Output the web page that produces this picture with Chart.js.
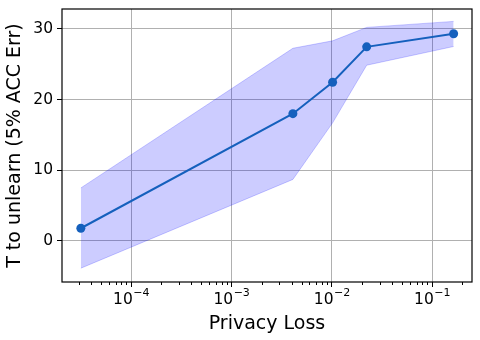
<!DOCTYPE html>
<html>
<head>
<meta charset="utf-8">
<script src="https://cdn.jsdelivr.net/npm/chart.js@4/dist/chart.umd.min.js"></script>
<style>
  html, body { margin: 0; padding: 0; background: #fff; }
  #wrap { width: 480px; height: 340px; position: relative; }
</style>
</head>
<body>
<div id="wrap"><canvas id="chart"></canvas></div>
<script>
// privacy loss (x, log scale) and T to unlearn (y)
const privacyLoss = [3.16e-5, 4.1e-3, 1.02e-2, 2.23e-2, 1.64e-1];
const tMean = [1.8, 18.0, 22.45, 27.45, 29.3];
const tUpper = [7.5, 27.25, 28.3, 30.2, 31.05];
const tLower = [-3.85, 8.7, 16.7, 24.85, 27.5];
const xTicks = [1e-4, 1e-3, 1e-2, 1e-1];
const yTicks = [0, 10, 20, 30];

function pts(ys) {
    return privacyLoss.map((x, i) => ({x: x, y: ys[i]}));
}

// frame, minor log ticks and 10^n labels
const framePlugin = {
    id: 'frame',
    afterDraw(chart) {
        let ctx = chart.ctx, a = chart.chartArea, xs = chart.scales.x;
        ctx.save();
        ctx.strokeStyle = '#000';
        ctx.lineWidth = 1;
        for (let d = -5; d <= -1; d++) {
            for (let m = 2; m <= 9; m++) {
                let v = m * Math.pow(10, d);
                if (v < xs.min || v > xs.max) continue;
                let px = Math.round(xs.getPixelForValue(v)) + 0.5;
                ctx.beginPath();
                ctx.moveTo(px, a.bottom);
                ctx.lineTo(px, a.bottom + 3);
                ctx.stroke();
            }
        }
        ctx.lineWidth = 1.2;
        ctx.strokeRect(a.left, a.top, a.right - a.left, a.bottom - a.top);

        // tick labels like 10^-4
        ctx.fillStyle = '#000';
        ctx.textBaseline = 'alphabetic';
        ctx.textAlign = 'left';
        let base = a.bottom + 21.5;
        xTicks.forEach(v => {
            let e = '\u2212' + Math.abs(Math.round(Math.log10(v)));
            ctx.font = '15.5px "DejaVu Sans"';
            let w1 = ctx.measureText('10').width;
            ctx.font = '11px "DejaVu Sans"';
            let w2 = ctx.measureText(e).width;
            let x0 = xs.getPixelForValue(v) - (w1 + w2) / 2;
            ctx.font = '15.5px "DejaVu Sans"';
            ctx.fillText('10', x0, base);
            ctx.font = '11px "DejaVu Sans"';
            ctx.fillText(e, x0 + w1 + 0.5, base - 7.5);
        });
        ctx.restore();
    }
};

const data = {
    datasets: [
        {
            label: 'upper',
            data: pts(tUpper),
            borderColor: 'rgba(0,0,255,0.2)',
            backgroundColor: 'rgba(0,0,255,0.2)',
            borderWidth: 1,
            pointRadius: 0,
            fill: '+1',
            order: 2
        },
        {
            label: 'lower',
            data: pts(tLower),
            borderColor: 'rgba(0,0,255,0.2)',
            backgroundColor: 'rgba(0,0,255,0.2)',
            borderWidth: 1,
            pointRadius: 0,
            fill: false,
            order: 2
        },
        {
            label: 'mean',
            data: pts(tMean),
            borderColor: '#1560bd',
            backgroundColor: '#1560bd',
            borderWidth: 2,
            pointRadius: 4.5,
            pointBorderWidth: 0,
            fill: false,
            order: 1
        }
    ]
};

const config = {
    type: 'line',
    data: data,
    plugins: [framePlugin],
    options: {
        responsive: false,
        animation: false,
        layout: { padding: { top: 9, right: 8, left: 4, bottom: 0 } },
        plugins: { legend: { display: false }, tooltip: { enabled: false } },
        scales: {
            x: {
                type: 'logarithmic',
                min: 2.05e-5,
                max: 0.25,
                afterBuildTicks(scale) {
                    scale.ticks = xTicks.map(v => ({value: v}));
                },
                afterFit(scale) {
                    scale.height = 58;
                    scale.paddingLeft = 0;
                    scale.paddingRight = 0;
                },
                ticks: {
                    callback: () => '',
                    font: { family: 'DejaVu Sans', size: 15.5 },
                    maxRotation: 0,
                    padding: 3
                },
                grid: { color: '#b0b0b0', lineWidth: 1, tickColor: '#000', tickLength: 5 },
                border: { display: false },
                title: {
                    display: true,
                    text: 'Privacy Loss',
                    color: '#000',
                    font: { family: 'DejaVu Sans', size: 19 },
                    padding: { top: 0, bottom: 5 }
                }
            },
            y: {
                min: -5.8,
                max: 32.8,
                afterBuildTicks(scale) {
                    scale.ticks = yTicks.map(v => ({value: v}));
                },
                afterFit(scale) {
                    scale.width = 58;
                    scale.paddingTop = 0;
                    scale.paddingBottom = 0;
                },
                ticks: {
                    color: '#000',
                    font: { family: 'DejaVu Sans', size: 15.5 },
                    padding: 4
                },
                grid: { color: '#b0b0b0', lineWidth: 1, tickColor: '#000', tickLength: 5 },
                border: { display: false },
                title: {
                    display: true,
                    text: 'T to unlearn (5% ACC Err)',
                    color: '#000',
                    font: { family: 'DejaVu Sans', size: 19 },
                    padding: { top: 0, bottom: 2 }
                }
            }
        }
    }
};

let canvas = document.getElementById('chart');
canvas.width = 480;
canvas.height = 340;
new Chart(canvas.getContext('2d'), config);
</script>
</body>
</html>
